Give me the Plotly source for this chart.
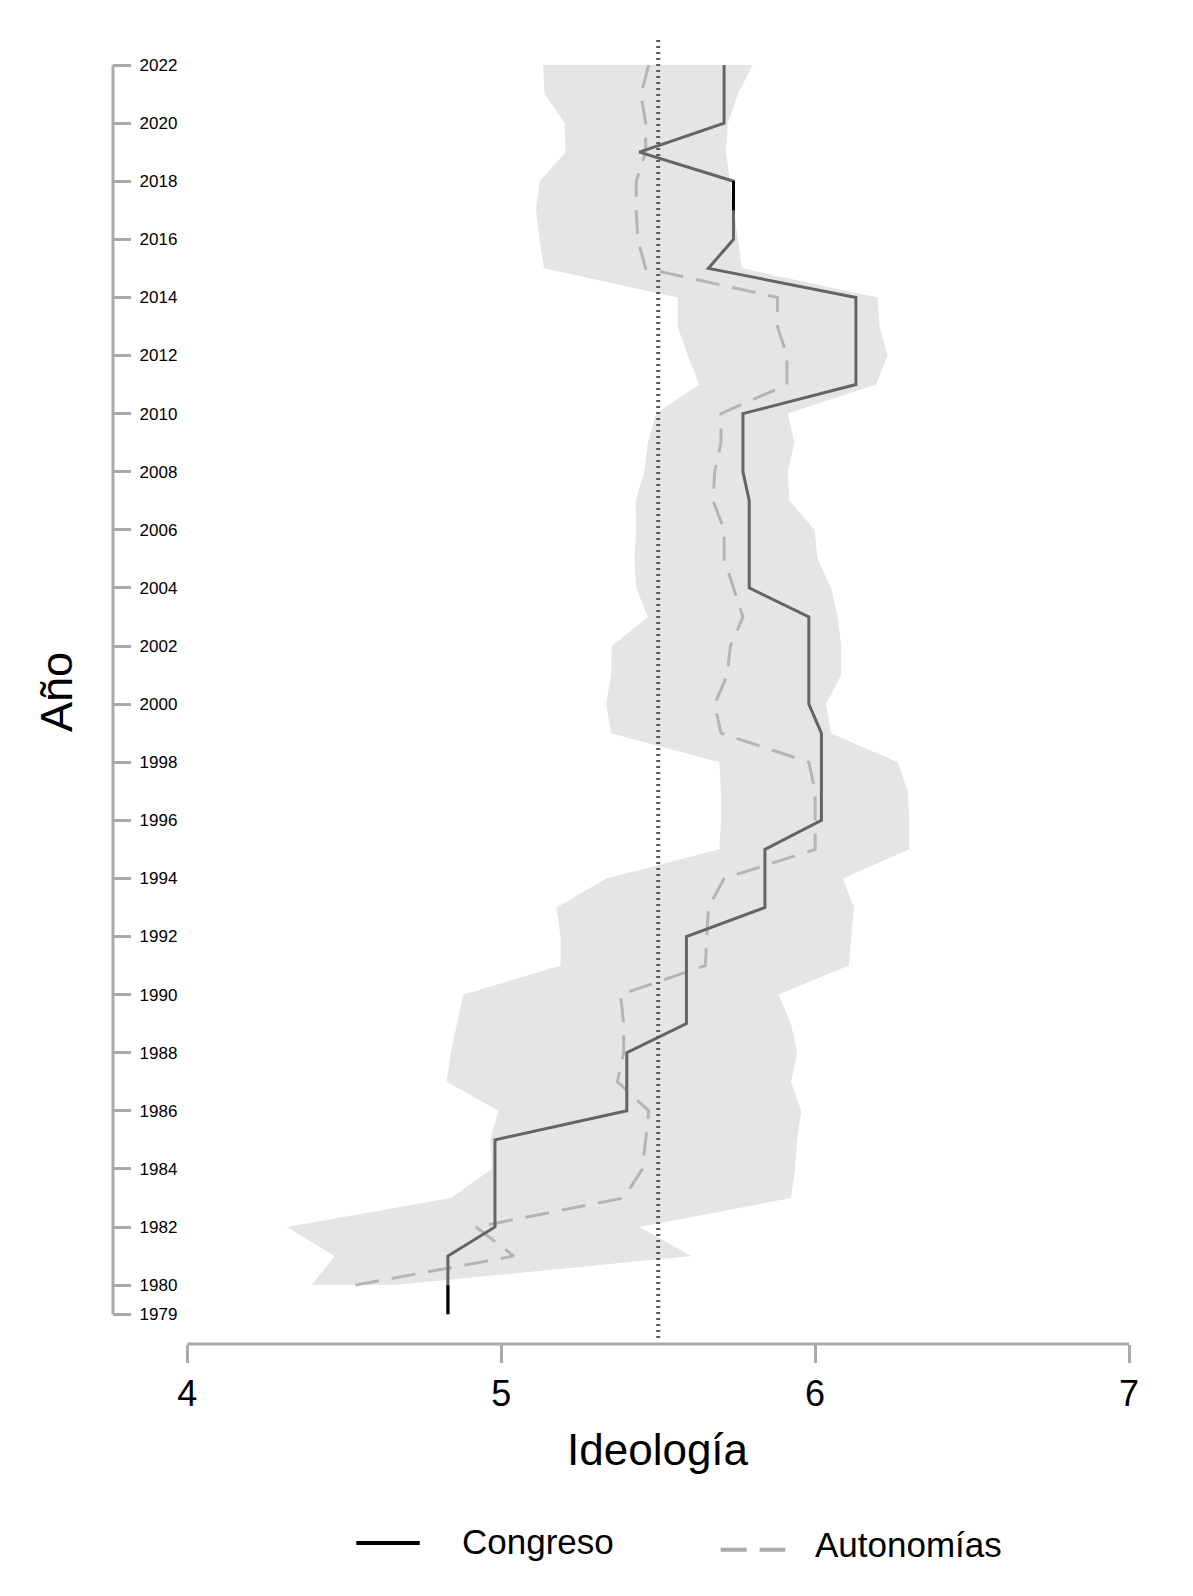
import plotly.graph_objects as go

# años y series
years = list(range(1979, 2023))

congreso = [4.83, 4.83, 4.83,
            4.98, 4.98, 4.98, 4.98,
            5.40, 5.40, 5.40,
            5.59, 5.59, 5.59, 5.59,
            5.84, 5.84, 5.84,
            6.02, 6.02, 6.02, 6.02,
            5.98, 5.98, 5.98, 5.98,
            5.79, 5.79, 5.79, 5.79,
            5.77, 5.77, 5.77,
            6.13, 6.13, 6.13, 6.13,
            5.66,
            5.74, 5.74, 5.74,
            5.44,
            5.71, 5.71, 5.71]

autonomias = [None, 4.535, 5.04, 4.92, 5.39, 5.45, 5.46, 5.47, 5.37, 5.39,
              5.39, 5.38, 5.65, 5.655, 5.66, 5.71, 6.00, 6.00, 6.00, 5.98,
              5.70, 5.68, 5.72, 5.73, 5.77, 5.74, 5.71, 5.71, 5.675, 5.68,
              5.70, 5.70, 5.91, 5.91, 5.88, 5.88, 5.46, 5.435, 5.43, 5.43,
              5.46, 5.46, 5.445, 5.47]

# banda (1980-2022)
band_years = list(range(1980, 2023))
band_low = [4.396, 4.469, 4.317, 4.84, 4.97, 4.965, 4.991, 4.826, 4.839, 4.859,
            4.879, 5.189, 5.189, 5.176, 5.335, 5.695, 5.70, 5.70, 5.695, 5.35,
            5.334, 5.35, 5.352, 5.467, 5.43, 5.424, 5.43, 5.428, 5.456, 5.467,
            5.493, 5.631, 5.594, 5.562, 5.562, 5.136, 5.122, 5.111, 5.122, 5.205,
            5.202, 5.138, 5.133]
band_high = [4.661, 5.606, 5.44, 5.923, 5.936, 5.943, 5.956, 5.923, 5.943, 5.923,
             5.883, 6.108, 6.115, 6.124, 6.088, 6.30, 6.30, 6.295, 6.263, 6.051,
             6.035, 6.083, 6.083, 6.072, 6.051, 6.008, 5.998, 5.918, 5.913, 5.934,
             5.913, 6.194, 6.231, 6.205, 6.199, 5.767, 5.754, 5.741, 5.727, 5.716,
             5.722, 5.754, 5.801]

ytick_vals = [1979] + list(range(1980, 2023, 2))
xtick_vals = [4, 5, 6, 7]
ref_line = 5.5

FONT = "Liberation Sans, Arial, sans-serif"
AXIS_GRAY = "#aaaaaa"

fig = go.Figure()

fig.add_scatter(x=band_high + band_low[::-1],
                y=band_years + band_years[::-1],
                fill="toself", fillcolor="rgb(229,229,229)",
                line=dict(width=0), mode="lines",
                hoverinfo="skip", showlegend=False)

fig.add_scatter(x=autonomias, y=years, mode="lines",
                line=dict(color="#b5b5b5", width=3, dash="24px,13px"),
                showlegend=False)

fig.add_scatter(x=congreso, y=years, mode="lines",
                line=dict(color="#646464", width=3),
                showlegend=False)

# tramos más oscuros
for a, b in [(0, 2), (38, 40)]:
    fig.add_scatter(x=congreso[a:b], y=years[a:b], mode="lines",
                    line=dict(color="#000000", width=3),
                    showlegend=False)

# línea de referencia
fig.add_shape(type="line", xref="x", yref="y domain",
              x0=ref_line, x1=ref_line, y0=0, y1=1,
              line=dict(color="#5a5a5a", width=4, dash="2px,4px"))

# ejes al estilo R
fig.add_shape(type="line", xref="x", yref="paper",
              x0=xtick_vals[0], x1=xtick_vals[-1], y0=0, y1=0,
              line=dict(color=AXIS_GRAY, width=3))
fig.add_shape(type="line", xref="paper", yref="y",
              x0=0, x1=0, y0=ytick_vals[0], y1=ytick_vals[-1],
              line=dict(color=AXIS_GRAY, width=3))

# leyenda
fig.add_shape(type="line", xref="paper", yref="paper",
              x0=0.2395, x1=0.3019, y0=-0.1524, y1=-0.1524,
              line=dict(color="black", width=4))
fig.add_shape(type="line", xref="paper", yref="paper",
              x0=0.5981, x1=0.6617, y0=-0.1575, y1=-0.1575,
              line=dict(color="#aaaaaa", width=4, dash="26px,13px"))

fig.add_annotation(text="Congreso", xref="paper", yref="paper",
                   x=0.3415, y=-0.1515, xanchor="left", yanchor="middle",
                   showarrow=False, font=dict(size=35, color="black", family=FONT))
fig.add_annotation(text="Autonomías", xref="paper", yref="paper",
                   x=0.689, y=-0.1539, xanchor="left", yanchor="middle",
                   showarrow=False, font=dict(size=35, color="black", family=FONT))

fig.add_annotation(text="Ideología", xref="x", yref="paper",
                   x=ref_line, y=-0.0804, xanchor="center", yanchor="middle",
                   showarrow=False, font=dict(size=44, color="black", family=FONT))
fig.add_annotation(text="Año", xref="paper", yref="paper",
                   x=-0.0561, y=0.4992, xanchor="center", yanchor="middle",
                   textangle=-90, showarrow=False,
                   font=dict(size=45, color="black", family=FONT))

fig.update_layout(
    width=1193, height=1596,
    margin=dict(l=105, r=72, t=30, b=260),
    paper_bgcolor="white", plot_bgcolor="white",
    font=dict(family=FONT, color="black"),
    xaxis=dict(range=[3.763, 7], tickvals=xtick_vals, ticks="outside",
               ticklen=18, tickwidth=3, tickcolor=AXIS_GRAY,
               showline=False, showgrid=False, zeroline=False,
               anchor="free", position=0,
               tickfont=dict(size=36, color="black")),
    yaxis=dict(domain=[0.0046, 1], range=[1978.18, 2022.93],
               tickvals=ytick_vals, ticks="inside", ticklen=18,
               tickwidth=3, tickcolor=AXIS_GRAY,
               ticklabelposition="inside", ticklabelstandoff=9,
               showline=False, showgrid=False, zeroline=False,
               tickfont=dict(size=17, color="black")),
)

fig.write_html("out.html")
